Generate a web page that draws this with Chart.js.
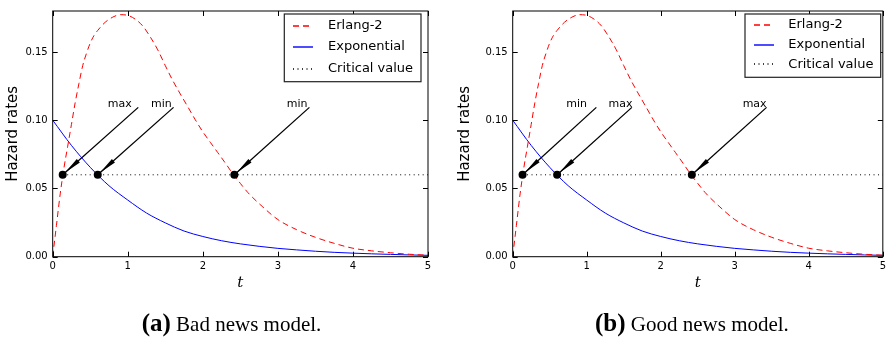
<!DOCTYPE html>
<html>
<head>
<meta charset="utf-8">
<script src="https://cdn.jsdelivr.net/npm/chart.js@4.4.1/dist/chart.umd.min.js"></script>
<style>
  html, body { margin: 0; padding: 0; background: #fff; }
  #wrap { position: relative; width: 890px; height: 339px; overflow: hidden; }
  .panel { position: absolute; top: 0; width: 445px; height: 339px; }
</style>
</head>
<body>
<div id="wrap">
  <div class="panel" style="left:0"><canvas id="bad" width="445" height="339"></canvas></div>
  <div class="panel" style="left:445px"><canvas id="good" width="445" height="339"></canvas></div>
</div>
<script>
// values
const erlangT = [0, 0.05, 0.1, 0.15, 0.2, 0.25, 0.3, 0.35, 0.4, 0.45, 0.5, 0.55, 0.6, 0.65, 0.7, 0.8, 0.9, 1.0, 1.1, 1.2, 1.3, 1.4, 1.5, 1.6, 1.7, 1.8, 1.9, 2.0, 2.1, 2.2, 2.3, 2.4, 2.5, 2.6, 2.8, 3.0, 3.25, 3.5, 3.75, 4.0, 4.25, 4.5, 4.75, 5.0];
const erlangRate = [0, 0.023, 0.046, 0.065, 0.081, 0.097, 0.113, 0.127, 0.140, 0.149, 0.1565, 0.162, 0.1658, 0.169, 0.1718, 0.1755, 0.1773, 0.1768, 0.174, 0.169, 0.161, 0.1515, 0.140, 0.129, 0.1192, 0.1098, 0.1003, 0.0915, 0.0838, 0.0762, 0.0686, 0.0607, 0.0537, 0.047, 0.0364, 0.0272, 0.0198, 0.0142, 0.0098, 0.0062, 0.0043, 0.0029, 0.0018, 0.0011];
const expT = [0, 0.25, 0.5, 0.75, 1.0, 1.25, 1.5, 1.75, 2.0, 2.25, 2.5, 2.75, 3.0, 3.25, 3.5, 3.75, 4.0, 4.25, 4.5, 4.75, 5.0];
const expRate = [0.100, 0.0815, 0.0655, 0.052, 0.0415, 0.032, 0.0248, 0.0188, 0.0148, 0.0117, 0.0094, 0.0076, 0.0061, 0.005, 0.004, 0.0032, 0.0026, 0.0021, 0.0017, 0.0013, 0.001];
const criticalValue = 0.06;
const crossingT = [0.133, 0.6, 2.42];
const xTicks = [0, 1, 2, 3, 4, 5];
const yTicks = [0, 0.05, 0.10, 0.15];
const seriesNames = ['Erlang-2', 'Exponential', 'Critical value'];
const seriesColors = ['rgb(255,0,0)', 'rgb(0,0,255)', 'rgb(0,0,0)'];
const seriesDash = [[6, 4], [], [1, 3.5]];
const badLabels = ['max', 'min', 'min'];
const goodLabels = ['min', 'max', 'max'];

// where each annotation arrow starts (t, rate) and where its text ends
const badArrowFrom = [[1.14, 0.1094], [1.61, 0.1094], [3.42, 0.1094]];
const goodArrowFrom = [[1.13, 0.1094], [1.61, 0.1094], [3.43, 0.1094]];
const badTextAt = [[1.053, 0.110], [1.587, 0.110], [3.395, 0.110]];
const goodTextAt = [[1.004, 0.110], [1.619, 0.110], [3.43, 0.110]];

const pts = (ts, vs) => ts.map((t, i) => ({ x: t, y: vs[i] }));
const SANS = '"DejaVu Sans", sans-serif';

// per panel layout
const panels = {
  bad: {
    yWidth: 52.7, padRight: 17, yTitlePad: 4.3,
    labels: badLabels, arrowFrom: badArrowFrom, textAt: badTextAt,
    legend: { x: 284.3, y: 14, w: 136.7, h: 67.7, rowY: [26, 47, 68.5], sampleX: 293, textX: 328 },
    caption: { x: 141.7, tag: '(a)', text: ' Bad news model.' }
  },
  good: {
    yWidth: 67.7, padRight: 2.3, yTitlePad: 11,
    labels: goodLabels, arrowFrom: goodArrowFrom, textAt: goodTextAt,
    legend: { x: 300, y: 14, w: 135.7, h: 63.3, rowY: [25, 45, 64.3], sampleX: 309, textX: 343.3 },
    caption: { x: 150, tag: '(b)', text: ' Good news model.' }
  }
};

const decor = {
  id: 'decor',
  afterDatasetsDraw(chart) {
    const o = panels[chart.canvas.id];
    const { ctx, scales: { x, y } } = chart;
    ctx.save();
    ctx.fillStyle = '#000';
    ctx.strokeStyle = '#000';
    crossingT.forEach((t, i) => {
      const hx = x.getPixelForValue(t), hy = y.getPixelForValue(criticalValue);
      const sx = x.getPixelForValue(o.arrowFrom[i][0]), sy = y.getPixelForValue(o.arrowFrom[i][1]);
      ctx.lineWidth = 1.3;
      ctx.beginPath();
      ctx.moveTo(sx, sy);
      ctx.lineTo(hx, hy);
      ctx.stroke();
      // wedge shaped head near the point
      const len = Math.hypot(sx - hx, sy - hy);
      const ux = (sx - hx) / len, uy = (sy - hy) / len;
      const bx = hx + ux * 21, by = hy + uy * 21;
      ctx.beginPath();
      ctx.moveTo(hx + ux * 3, hy + uy * 3);
      ctx.lineTo(bx - uy * 2.3, by + ux * 2.3);
      ctx.lineTo(bx + uy * 2.3, by - ux * 2.3);
      ctx.closePath();
      ctx.fill();
      // label
      ctx.font = '11px ' + SANS;
      ctx.textAlign = 'right';
      ctx.textBaseline = 'alphabetic';
      ctx.fillText(o.labels[i], x.getPixelForValue(o.textAt[i][0]), y.getPixelForValue(o.textAt[i][1]));
    });
    ctx.restore();
  },
  afterDraw(chart) {
    const o = panels[chart.canvas.id];
    const { ctx, chartArea: a, scales: { x, y } } = chart;
    ctx.save();
    // frame + inward ticks
    ctx.strokeStyle = '#000';
    ctx.lineWidth = 1;
    ctx.strokeRect(a.left, a.top, a.right - a.left, a.bottom - a.top);
    ctx.beginPath();
    xTicks.forEach(v => {
      const px = Math.round(x.getPixelForValue(v)) + 0.5;
      ctx.moveTo(px, a.bottom); ctx.lineTo(px, a.bottom - 5);
      ctx.moveTo(px, a.top); ctx.lineTo(px, a.top + 5);
    });
    yTicks.forEach(v => {
      const py = Math.round(y.getPixelForValue(v)) + 0.5;
      ctx.moveTo(a.left, py); ctx.lineTo(a.left + 5, py);
      ctx.moveTo(a.right, py); ctx.lineTo(a.right - 5, py);
    });
    ctx.stroke();

    // legend
    const L = o.legend;
    ctx.fillStyle = '#fff';
    ctx.fillRect(L.x, L.y, L.w, L.h);
    ctx.strokeStyle = '#222';
    ctx.lineWidth = 1.2;
    ctx.strokeRect(L.x, L.y, L.w, L.h);
    ctx.font = '13px ' + SANS;
    ctx.textAlign = 'left';
    ctx.textBaseline = 'middle';
    for (let i = 0; i < seriesNames.length; i++) {
      const ry = Math.round(L.rowY[i]);
      ctx.beginPath();
      ctx.strokeStyle = seriesColors[i];
      ctx.lineWidth = 1.4;
      ctx.setLineDash(seriesDash[i]);
      ctx.moveTo(L.sampleX, ry);
      ctx.lineTo(L.sampleX + 20, ry);
      ctx.stroke();
      ctx.setLineDash([]);
      ctx.fillStyle = '#000';
      ctx.fillText(seriesNames[i], L.textX, L.rowY[i]);
    }

    // sub-caption
    const C = o.caption;
    ctx.fillStyle = '#000';
    ctx.textBaseline = 'alphabetic';
    ctx.font = 'bold 25px "Liberation Serif", serif';
    ctx.fillText(C.tag, C.x, 331);
    const w = ctx.measureText(C.tag).width;
    ctx.font = '21px "Liberation Serif", serif';
    ctx.fillText(C.text, C.x + w, 331);
    ctx.restore();
  }
};

function makePanel(id) {
  const cfg = panels[id];
  return new Chart(document.getElementById(id), {
    type: 'line',
    data: {
      datasets: [
        { label: seriesNames[0], data: pts(erlangT, erlangRate), borderColor: seriesColors[0], borderWidth: 1,
          borderDash: seriesDash[0], pointRadius: 0, cubicInterpolationMode: 'monotone', fill: false, order: 1 },
        { label: seriesNames[1], data: pts(expT, expRate), borderColor: seriesColors[1], borderWidth: 1,
          pointRadius: 0, cubicInterpolationMode: 'monotone', fill: false, order: 2 },
        { label: seriesNames[2], data: [{ x: crossingT[0], y: criticalValue }, { x: 5, y: criticalValue }],
          borderColor: seriesColors[2], borderWidth: 1, borderDash: seriesDash[2], pointRadius: 0, fill: false, order: 3 },
        { label: 'points', data: crossingT.map(t => ({ x: t, y: criticalValue })), showLine: false, order: 0,
          pointRadius: 4, pointBorderWidth: 0, pointBackgroundColor: '#000', pointBorderColor: '#000', borderColor: '#000' }
      ]
    },
    options: {
      responsive: false,
      animation: false,
      devicePixelRatio: 1,
      layout: { padding: { left: 0, right: cfg.padRight, top: 7, bottom: 39 } },
      plugins: {
        legend: { display: false },
        tooltip: { enabled: false }
      },
      scales: {
        x: {
          type: 'linear', min: 0, max: 5,
          grid: { display: false, drawTicks: false },
          border: { display: false },
          afterBuildTicks: s => { s.ticks = xTicks.map(v => ({ value: v })); },
          afterFit: s => { s.height = 43.3; },
          ticks: { color: '#000', font: { family: SANS, size: 10 }, padding: 4, maxRotation: 0, autoSkip: false,
                   callback: v => String(v) },
          title: { display: true, text: 't', color: '#000',
                   font: { family: '"DejaVu Serif", serif', style: 'italic', size: 15 },
                   padding: { top: 0, bottom: 8 } }
        },
        y: {
          type: 'linear', min: 0, max: 0.18,
          grid: { display: false, drawTicks: false },
          border: { display: false },
          afterBuildTicks: s => { s.ticks = yTicks.map(v => ({ value: v })); },
          afterFit: s => { s.width = cfg.yWidth; },
          ticks: { color: '#000', font: { family: SANS, size: 10 }, padding: 5,
                   callback: v => v.toFixed(2) },
          title: { display: true, text: 'Hazard rates', color: '#000',
                   font: { family: SANS, size: 15 }, padding: { top: cfg.yTitlePad, bottom: 0 } }
        }
      }
    },
    plugins: [decor]
  });
}

makePanel('bad');
makePanel('good');
</script>
</body>
</html>
